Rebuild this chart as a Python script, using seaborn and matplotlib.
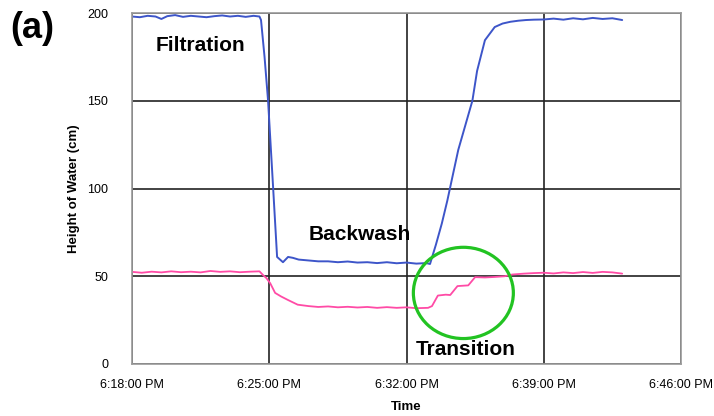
import matplotlib
matplotlib.use("Agg")
import matplotlib.pyplot as plt
from matplotlib.patches import Ellipse
import seaborn as sns
import pandas as pd

# minutes after 6:18:00 PM
blue_t = [0.0, 0.4, 0.8, 1.2, 1.5, 1.8, 2.2, 2.6, 3.0, 3.4, 3.8, 4.2, 4.6, 5.0, 5.4, 5.8, 6.2, 6.5,
          6.58, 6.76, 6.94, 7.2, 7.4, 7.7, 7.96, 8.2, 8.5, 9.0, 9.5, 10.0, 10.5, 11.0, 11.5, 12.0,
          12.5, 13.0, 13.5, 14.0, 14.5, 15.0, 15.2, 15.5, 15.8, 16.08, 16.33, 16.64, 17.0, 17.36,
          17.6, 18.0, 18.5, 18.9, 19.3, 19.7, 20.1, 20.5, 21.0, 21.5, 22.0, 22.5, 23.0, 23.5, 24.0,
          24.5, 25.0]
blue_h = [198.0, 197.6, 198.4, 198.0, 196.6, 198.2, 198.8, 197.8, 198.4, 198.0, 197.6, 198.2, 198.6,
          198.0, 198.4, 197.8, 198.4, 198.0,
          196.0, 175.0, 150.0, 100.0, 61.0, 58.0, 61.0, 60.5, 59.5, 59.0, 58.5, 58.5, 58.0, 58.4,
          57.8, 58.0, 57.5, 58.0, 57.4, 57.8, 57.2, 57.5, 57.0, 68.0, 80.0, 93.0, 106.0, 122.0,
          136.0, 150.0, 167.0, 184.5, 192.0, 194.0, 195.0, 195.6, 196.0, 196.2, 196.3, 196.8, 196.2,
          197.0, 196.4, 197.2, 196.6, 197.0, 196.0]

pink_t = [0.0, 0.5, 1.0, 1.5, 2.0, 2.5, 3.0, 3.5, 4.0, 4.5, 5.0, 5.5, 6.0, 6.5, 6.7, 6.85, 7.05,
          7.3, 7.6, 7.95, 8.45, 9.0, 9.5, 10.0, 10.5, 11.0, 11.5, 12.0, 12.5, 13.0, 13.5, 14.0,
          14.5, 15.1, 15.3, 15.6, 16.0, 16.23, 16.6, 17.15, 17.5, 18.0, 18.5, 19.0, 19.4, 20.0,
          20.5, 21.0, 21.5, 22.0, 22.5, 23.0, 23.5, 24.0, 24.5, 25.0]
pink_h = [52.5, 52.0, 52.6, 52.2, 52.8, 52.3, 52.6, 52.2, 53.0, 52.5, 52.8, 52.3, 52.6, 52.8, 50.5,
          49.0, 46.0, 40.5, 38.5, 36.5, 33.8, 33.0, 32.5, 32.8, 32.3, 32.6, 32.2, 32.5, 32.0, 32.4,
          32.0, 32.3, 31.8, 32.0, 33.0, 39.0, 39.5, 39.3, 44.4, 44.8, 49.5, 49.3, 49.6, 50.0, 51.0,
          51.5, 51.8, 52.0, 51.6, 52.2, 51.8, 52.4, 51.9, 52.5, 52.2, 51.5]

x_ticks = [0, 7, 14, 21, 28]
x_labels = ["6:18:00 PM", "6:25:00 PM", "6:32:00 PM", "6:39:00 PM", "6:46:00 PM"]
y_ticks = [0, 50, 100, 150, 200]

sns.set_style("white")
plt.rcParams["font.family"] = ["Liberation Sans", "DejaVu Sans"]
plt.rcParams["text.color"] = "black"
plt.rcParams["xtick.color"] = "black"
plt.rcParams["ytick.color"] = "black"
plt.rcParams["axes.labelcolor"] = "black"

fig = plt.figure(figsize=(7.14, 4.16), dpi=100)
ax = fig.add_axes([132/714, 52/416, 549/714, 351/416])

df_b = pd.DataFrame({"t": blue_t, "h": blue_h})
df_p = pd.DataFrame({"t": pink_t, "h": pink_h})
sns.lineplot(data=df_b, x="t", y="h", ax=ax, color="#3D55C9", linewidth=1.4)
sns.lineplot(data=df_p, x="t", y="h", ax=ax, color="#FF4BA6", linewidth=1.3)

ax.set_xlim(0, 28)
ax.set_ylim(0, 200)
ax.set_xticks(x_ticks)
ax.set_xticklabels(x_labels, fontsize=9)
ax.set_yticks(y_ticks)
ax.set_yticklabels([str(v) for v in y_ticks], fontsize=9)
ax.grid(True, color="#222222", linewidth=1.2)
ax.set_axisbelow(True)
for s in ax.spines.values():
    s.set_color("#9a9a9a")
    s.set_linewidth(1.2)
ax.tick_params(axis="x", direction="out", length=5, color="#777777", labelcolor="black", pad=6)
ax.tick_params(axis="y", direction="out", length=3, color="#777777", labelcolor="black", pad=14)
ax.set_xlabel("Time", fontsize=9.5, fontweight="bold", labelpad=7)
ax.set_ylabel("Height of Water (cm)", fontsize=9.5, fontweight="bold", labelpad=5)

ax.text(3.47, 181.5, "Filtration", fontsize=15, fontweight="bold", ha="center", va="center")
ax.text(11.6, 74, "Backwash", fontsize=15, fontweight="bold", ha="center", va="center")
ax.text(17.0, 8, "Transition", fontsize=15, fontweight="bold", ha="center", va="center")
ax.add_patch(Ellipse((16.9, 40.5), 5.1, 52, fill=False, edgecolor="#22C322", linewidth=2.3,
                     zorder=5))

fig.text(10/714, 1 - 29/416, "(a)", fontsize=26, fontweight="bold", ha="left", va="center")

fig.savefig("out.png", dpi=100)
